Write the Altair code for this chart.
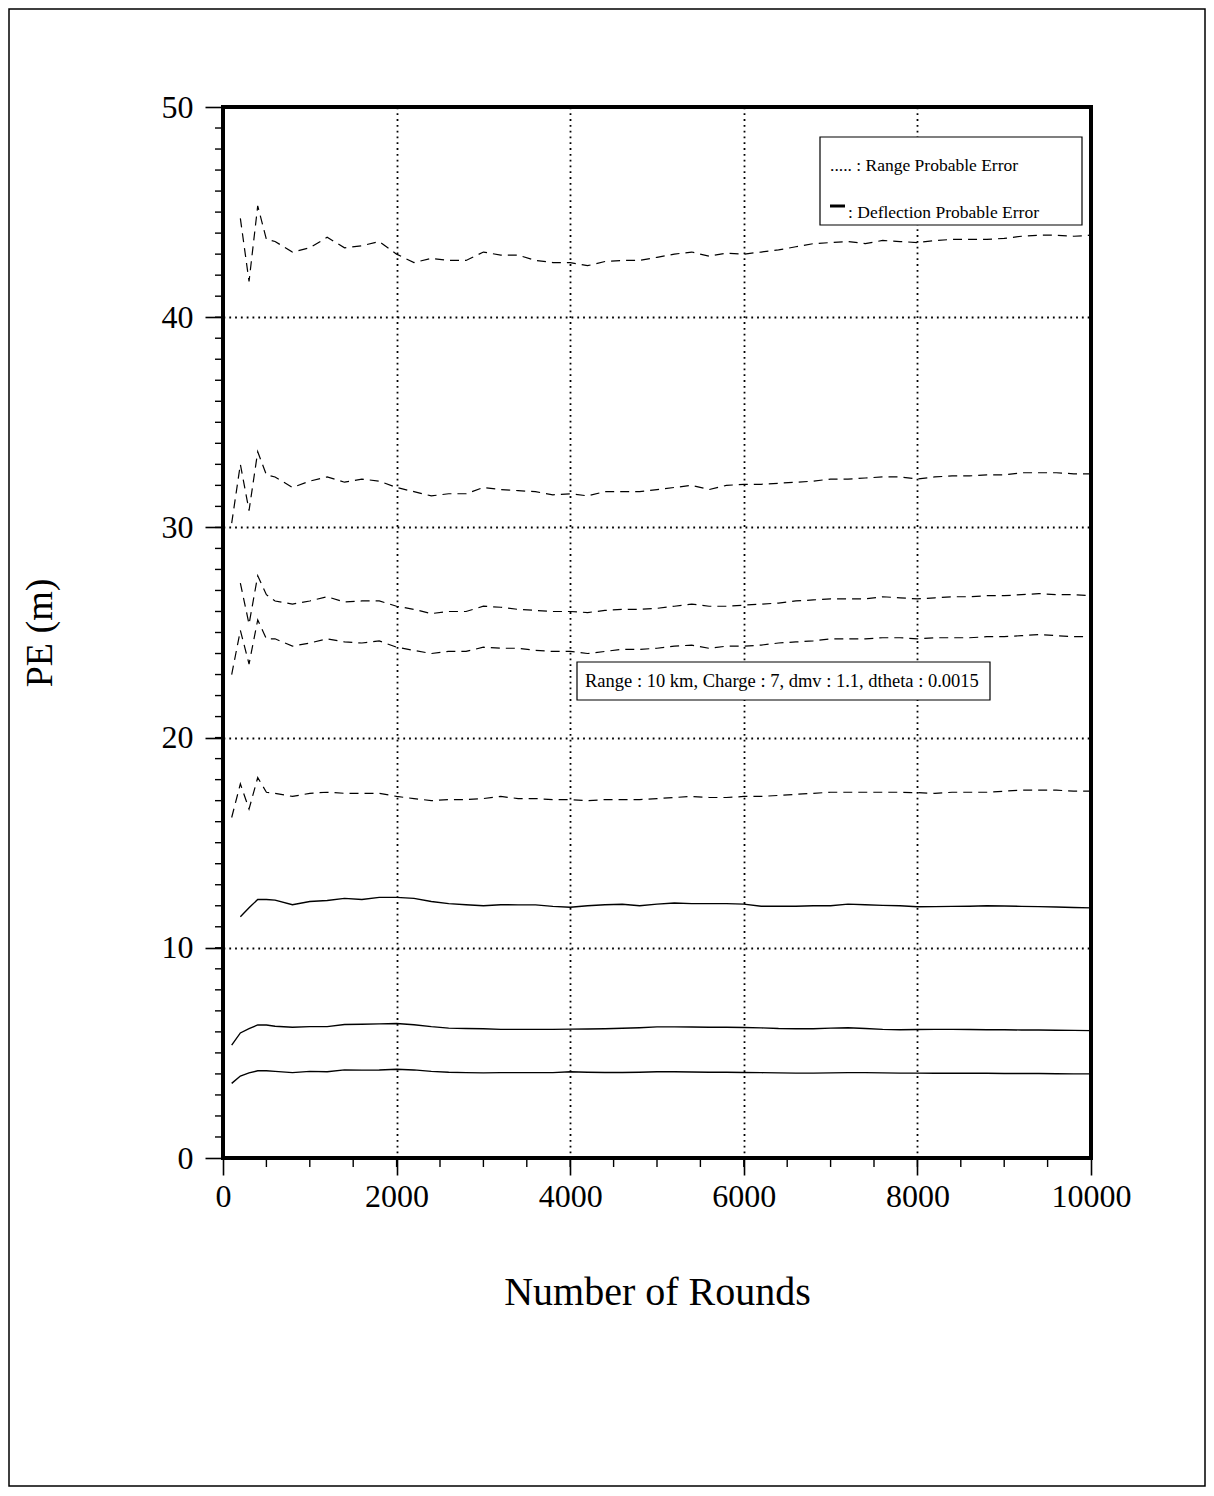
import altair as alt
import pandas as pd

# ---------------- data ----------------
ROUNDS = [100, 200, 300, 400, 500, 600, 800, 1000, 1200, 1400, 1600, 1800, 2000,
          2200, 2400, 2600, 2800, 3000, 3200, 3400, 3600, 3800, 4000, 4200, 4400,
          4600, 4800, 5000, 5200, 5400, 5600, 5800, 6000, 6200, 6400, 6600, 6800,
          7000, 7200, 7400, 7600, 7800, 8000, 8200, 8400, 8600, 8800, 9000, 9200,
          9400, 9600, 9800, 10000]

RANGE_PE_A = [None, 44.7, 41.7, 45.3, 43.7, 43.6, 43.1, 43.3, 43.8, 43.3, 43.4, 43.6, 43.0,
              42.6, 42.8, 42.7, 42.7, 43.1, 42.95, 42.95, 42.7, 42.6, 42.6, 42.45, 42.65,
              42.7, 42.7, 42.85, 43.0, 43.1, 42.9, 43.05, 43.0, 43.1, 43.2, 43.35, 43.5,
              43.55, 43.6, 43.5, 43.65, 43.6, 43.55, 43.65, 43.7, 43.7, 43.7, 43.75, 43.85,
              43.9, 43.9, 43.85, 43.9]
RANGE_PE_B = [30.2, 33.0, 30.8, 33.6, 32.5, 32.4, 31.9, 32.2, 32.4, 32.15, 32.3, 32.2, 31.9,
              31.7, 31.5, 31.6, 31.6, 31.9, 31.8, 31.75, 31.7, 31.55, 31.6, 31.5, 31.7,
              31.7, 31.7, 31.8, 31.9, 32.0, 31.8, 32.0, 32.05, 32.05, 32.1, 32.15, 32.2,
              32.3, 32.3, 32.35, 32.4, 32.4, 32.3, 32.4, 32.45, 32.45, 32.5, 32.5, 32.6,
              32.6, 32.6, 32.55, 32.55]
RANGE_PE_C = [None, 27.35, 25.4, 27.7, 26.8, 26.5, 26.35, 26.5, 26.7, 26.45, 26.5, 26.5, 26.25,
              26.1, 25.9, 26.0, 26.0, 26.25, 26.2, 26.1, 26.05, 26.0, 26.0, 25.95, 26.05,
              26.1, 26.1, 26.15, 26.25, 26.35, 26.25, 26.25, 26.3, 26.35, 26.4, 26.5, 26.55,
              26.6, 26.6, 26.6, 26.7, 26.65, 26.6, 26.65, 26.7, 26.7, 26.75, 26.75, 26.8,
              26.85, 26.8, 26.8, 26.75]
RANGE_PE_D = [23.0, 25.1, 23.5, 25.6, 24.7, 24.7, 24.35, 24.5, 24.7, 24.55, 24.5, 24.6, 24.3,
              24.15, 24.0, 24.1, 24.1, 24.3, 24.25, 24.25, 24.15, 24.1, 24.1, 24.0, 24.1,
              24.2, 24.2, 24.25, 24.35, 24.4, 24.25, 24.35, 24.35, 24.4, 24.5, 24.55, 24.6,
              24.7, 24.7, 24.7, 24.75, 24.75, 24.7, 24.75, 24.75, 24.75, 24.8, 24.8, 24.85,
              24.9, 24.85, 24.8, 24.8]
RANGE_PE_E = [16.2, 17.8, 16.6, 18.1, 17.4, 17.35, 17.2, 17.35, 17.4, 17.35, 17.35, 17.35, 17.2,
              17.1, 17.0, 17.05, 17.05, 17.1, 17.2, 17.1, 17.1, 17.05, 17.05, 17.0, 17.05,
              17.05, 17.05, 17.1, 17.15, 17.2, 17.15, 17.15, 17.2, 17.2, 17.25, 17.3, 17.35,
              17.4, 17.4, 17.4, 17.4, 17.4, 17.38, 17.35, 17.4, 17.4, 17.4, 17.45, 17.5,
              17.5, 17.5, 17.45, 17.45]
DEFL_PE_F = [None, 11.48, 11.9, 12.3, 12.3, 12.27, 12.05, 12.2, 12.25, 12.35, 12.3, 12.4, 12.4,
             12.35, 12.2, 12.1, 12.05, 12.0, 12.05, 12.04, 12.04, 11.97, 11.93, 12.0, 12.05,
             12.07, 12.0, 12.08, 12.13, 12.1, 12.1, 12.1, 12.08, 11.98, 11.98, 11.98, 12.0,
             12.0, 12.08, 12.05, 12.02, 12.0, 11.95, 11.96, 11.97, 11.98, 12.0, 11.99, 11.97,
             11.96, 11.94, 11.92, 11.9]
DEFL_PE_G = [5.37, 5.95, 6.15, 6.33, 6.33, 6.27, 6.22, 6.25, 6.25, 6.35, 6.36, 6.38, 6.4,
             6.34, 6.25, 6.18, 6.16, 6.15, 6.12, 6.12, 6.12, 6.12, 6.13, 6.14, 6.15,
             6.17, 6.2, 6.24, 6.24, 6.23, 6.22, 6.22, 6.21, 6.19, 6.16, 6.15, 6.15,
             6.18, 6.2, 6.16, 6.12, 6.1, 6.11, 6.12, 6.12, 6.11, 6.1, 6.1, 6.09,
             6.09, 6.08, 6.07, 6.06]
DEFL_PE_H = [3.55, 3.9, 4.05, 4.15, 4.15, 4.12, 4.06, 4.12, 4.1, 4.19, 4.18, 4.19, 4.22,
             4.19, 4.12, 4.08, 4.06, 4.05, 4.06, 4.06, 4.06, 4.06, 4.1, 4.08, 4.07,
             4.07, 4.08, 4.1, 4.1, 4.09, 4.08, 4.08, 4.07, 4.06, 4.05, 4.04, 4.04,
             4.05, 4.06, 4.06, 4.05, 4.04, 4.04, 4.03, 4.03, 4.03, 4.03, 4.02, 4.02,
             4.02, 4.01, 4.0, 4.0]

X_TICKS = [0, 2000, 4000, 6000, 8000, 10000]
Y_TICKS = [0, 10, 20, 30, 40, 50]
X_MINOR = [500 * i for i in range(1, 20)]
Y_MINOR = list(range(1, 50))

X_TITLE = "Number of Rounds"
Y_TITLE = "PE (m)"
LEGEND_RANGE = "..... : Range Probable Error"
LEGEND_DEFL = ": Deflection Probable Error"
NOTE = "Range : 10 km, Charge : 7, dmv : 1.1, dtheta : 0.0015"

# ---------------- build table ----------------
rows = []
for name, kind, vals in [
    ("A", "range", RANGE_PE_A), ("B", "range", RANGE_PE_B), ("C", "range", RANGE_PE_C),
    ("D", "range", RANGE_PE_D), ("E", "range", RANGE_PE_E),
    ("F", "defl", DEFL_PE_F), ("G", "defl", DEFL_PE_G), ("H", "defl", DEFL_PE_H),
]:
    for r, v in zip(ROUNDS, vals):
        if v is not None:
            rows.append({"rounds": r, "pe": v, "series": name, "kind": kind})
df = pd.DataFrame(rows)

W, H = 868, 1051
FONT = "Liberation Serif"

x_scale = alt.Scale(domain=[0, 10000], nice=False, zero=False)
y_scale = alt.Scale(domain=[0, 50], nice=False)

x_axis = alt.Axis(values=X_TICKS, format="d", title=X_TITLE, grid=True,
                  gridDash=[1.8, 4.0], gridColor="black", gridWidth=1.8, gridOpacity=1,
                  domain=False, tickSize=17, tickColor="black", tickWidth=1.6,
                  labelFont=FONT, labelFontSize=32, labelColor="black", labelPadding=6,
                  labelFlush=False, labelOverlap=False,
                  titleFont=FONT, titleFontSize=40, titleFontWeight="normal",
                  titleColor="black", titlePadding=60)
y_axis = alt.Axis(values=Y_TICKS, format="d", title=Y_TITLE, grid=True,
                  gridDash=[1.8, 4.0], gridColor="black", gridWidth=1.8, gridOpacity=1,
                  domain=False, tickSize=18, tickColor="black", tickWidth=1.6,
                  labelFont=FONT, labelFontSize=32, labelColor="black", labelPadding=12,
                  labelFlush=False, labelOverlap=False,
                  titleFont=FONT, titleFontSize=38, titleFontWeight="normal",
                  titleColor="black", titlePadding=102)

X_ENC = alt.X("rounds:Q", scale=x_scale, axis=x_axis, title=X_TITLE)
Y_ENC = alt.Y("pe:Q", scale=y_scale, axis=y_axis, title=Y_TITLE)

base = alt.Chart(df).encode(x=X_ENC, y=Y_ENC, detail="series:N")
dashed = base.transform_filter(alt.datum.kind == "range").mark_line(
    color="black", strokeWidth=1.2, strokeDash=[9, 6])
solid = base.transform_filter(alt.datum.kind == "defl").mark_line(
    color="black", strokeWidth=1.4)

minor_x = alt.Chart(pd.DataFrame({"rounds": X_MINOR})).mark_rule(
    color="black", strokeWidth=1.4).encode(
    x=X_ENC, y=alt.value(H), y2=alt.value(H + 9))
minor_y = alt.Chart(pd.DataFrame({"pe": Y_MINOR})).mark_rule(
    color="black", strokeWidth=1.4).encode(
    y=Y_ENC, x=alt.value(-8), x2=alt.value(0))

one = pd.DataFrame({"a": [0]})
legend_box = alt.Chart(one).mark_rect(fill="white", stroke="black", strokeWidth=1.2).encode(
    x=alt.value(597), x2=alt.value(859), y=alt.value(30), y2=alt.value(118))
legend_t1 = alt.Chart(pd.DataFrame({"t": [LEGEND_RANGE]})).mark_text(
    align="left", baseline="middle", font=FONT, fontSize=17.5, color="black").encode(
    x=alt.value(607), y=alt.value(59), text="t:N")
legend_bar = alt.Chart(one).mark_rule(color="black", strokeWidth=3).encode(
    x=alt.value(607), x2=alt.value(622), y=alt.value(99))
legend_t2 = alt.Chart(pd.DataFrame({"t": [LEGEND_DEFL]})).mark_text(
    align="left", baseline="middle", font=FONT, fontSize=17.5, color="black").encode(
    x=alt.value(625), y=alt.value(106), text="t:N")

note_box = alt.Chart(one).mark_rect(fill="white", stroke="black", strokeWidth=1.2).encode(
    x=alt.value(354), x2=alt.value(767), y=alt.value(555), y2=alt.value(593))
note_t = alt.Chart(pd.DataFrame({"t": [NOTE]})).mark_text(
    align="left", baseline="middle", font=FONT, fontSize=18.5, color="black").encode(
    x=alt.value(362), y=alt.value(574), text="t:N")

frame = alt.Chart(one).mark_rect(fill="white", fillOpacity=0, stroke="black",
                                 strokeWidth=1.5).encode(
    x=alt.value(-214), x2=alt.value(982), y=alt.value(-98), y2=alt.value(1379))

chart = alt.layer(
    dashed, solid, minor_x, minor_y,
    legend_box, legend_t1, legend_bar, legend_t2,
    note_box, note_t, frame,
).properties(
    width=W, height=H,
    autosize=alt.AutoSizeParams(type="none"),
    padding={"left": 215, "top": 99, "right": 115, "bottom": 330},
    background="white",
).configure_view(
    stroke="black", strokeWidth=4,
)

chart.save("out.html", embed_options={"renderer": "svg", "actions": False})
